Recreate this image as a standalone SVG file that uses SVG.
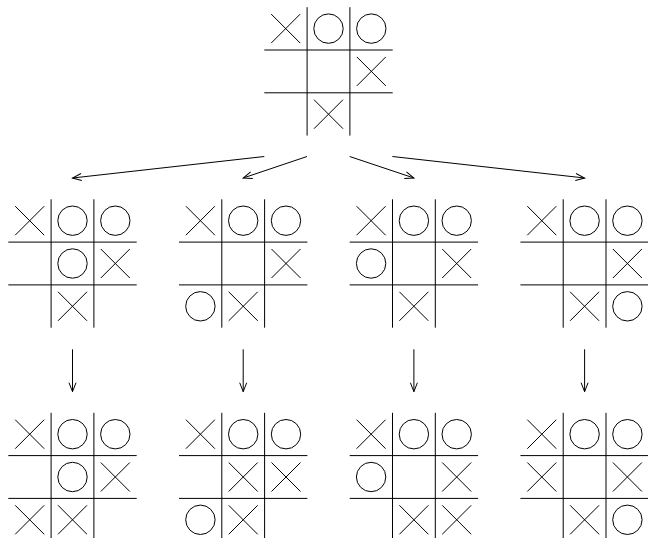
<svg xmlns="http://www.w3.org/2000/svg" xmlns:xlink="http://www.w3.org/1999/xlink" width="648" height="538" viewBox="0 0 648 538">
<style>
  .g, .m { fill: none; stroke: #000; stroke-width: 1; }
  .c { fill: none; stroke: #000; stroke-width: 1; }
  .ah { fill: none; stroke: #000; stroke-width: 1; }
</style>
<defs>
  <path id="grid" class="g" d="M42.8,0V128.4M85.6,0V128.4M0,42.8H128.4M0,85.6H128.4"/>
  <path id="X" class="m" d="M-14.5,-14.5L14.5,14.5M-14.5,14.5L14.5,-14.5"/>
  <circle id="O" class="m" r="14.7"/>
  <marker id="arr" markerUnits="userSpaceOnUse" markerWidth="12" markerHeight="10" refX="0" refY="0" orient="auto" overflow="visible">
    <path class="ah" d="M-9,-3.5L0,0L-9,3.5"/>
  </marker>
</defs>
<rect width="648" height="538" fill="#fff"/>

<g id="board-root" transform="translate(264.3,7.2)">
  <use xlink:href="#grid" href="#grid"/>
  <use href="#X" x="21.4" y="21.4"/><use href="#O" x="64.2" y="21.4"/><use href="#O" x="107" y="21.4"/>
  <use href="#X" x="107" y="64.2"/>
  <use href="#X" x="64.2" y="107"/>
</g>

<g id="board-a1" transform="translate(8.3,199.3)">
  <use href="#grid"/>
  <use href="#X" x="21.4" y="21.4"/><use href="#O" x="64.2" y="21.4"/><use href="#O" x="107" y="21.4"/>
  <use href="#O" x="64.2" y="64.2"/><use href="#X" x="107" y="64.2"/>
  <use href="#X" x="64.2" y="107"/>
</g>
<g id="board-a2" transform="translate(179,199.3)">
  <use href="#grid"/>
  <use href="#X" x="21.4" y="21.4"/><use href="#O" x="64.2" y="21.4"/><use href="#O" x="107" y="21.4"/>
  <use href="#X" x="107" y="64.2"/>
  <use href="#O" x="21.4" y="107"/><use href="#X" x="64.2" y="107"/>
</g>
<g id="board-a3" transform="translate(349.7,199.3)">
  <use href="#grid"/>
  <use href="#X" x="21.4" y="21.4"/><use href="#O" x="64.2" y="21.4"/><use href="#O" x="107" y="21.4"/>
  <use href="#O" x="21.4" y="64.2"/><use href="#X" x="107" y="64.2"/>
  <use href="#X" x="64.2" y="107"/>
</g>
<g id="board-a4" transform="translate(520.4,199.3)">
  <use href="#grid"/>
  <use href="#X" x="21.4" y="21.4"/><use href="#O" x="64.2" y="21.4"/><use href="#O" x="107" y="21.4"/>
  <use href="#X" x="107" y="64.2"/>
  <use href="#X" x="64.2" y="107"/><use href="#O" x="107" y="107"/>
</g>

<g id="board-b1" transform="translate(8.3,412.8)">
  <use href="#grid"/>
  <use href="#X" x="21.4" y="21.4"/><use href="#O" x="64.2" y="21.4"/><use href="#O" x="107" y="21.4"/>
  <use href="#O" x="64.2" y="64.2"/><use href="#X" x="107" y="64.2"/>
  <use href="#X" x="21.4" y="107"/><use href="#X" x="64.2" y="107"/>
</g>
<g id="board-b2" transform="translate(179,412.8)">
  <use href="#grid"/>
  <use href="#X" x="21.4" y="21.4"/><use href="#O" x="64.2" y="21.4"/><use href="#O" x="107" y="21.4"/>
  <use href="#X" x="64.2" y="64.2"/><use href="#X" x="107" y="64.2"/>
  <use href="#O" x="21.4" y="107"/><use href="#X" x="64.2" y="107"/>
</g>
<g id="board-b3" transform="translate(349.7,412.8)">
  <use href="#grid"/>
  <use href="#X" x="21.4" y="21.4"/><use href="#O" x="64.2" y="21.4"/><use href="#O" x="107" y="21.4"/>
  <use href="#O" x="21.4" y="64.2"/><use href="#X" x="107" y="64.2"/>
  <use href="#X" x="64.2" y="107"/><use href="#X" x="107" y="107"/>
</g>
<g id="board-b4" transform="translate(520.4,412.8)">
  <use href="#grid"/>
  <use href="#X" x="21.4" y="21.4"/><use href="#O" x="64.2" y="21.4"/><use href="#O" x="107" y="21.4"/>
  <use href="#X" x="21.4" y="64.2"/><use href="#X" x="107" y="64.2"/>
  <use href="#X" x="64.2" y="107"/><use href="#O" x="107" y="107"/>
</g>

<g id="connectors">
  <line class="c" x1="264.3" y1="156.5" x2="72.5" y2="178" marker-end="url(#arr)"/>
  <line class="c" x1="307" y1="156.5" x2="243.2" y2="178" marker-end="url(#arr)"/>
  <line class="c" x1="349.7" y1="156.5" x2="413.9" y2="178" marker-end="url(#arr)"/>
  <line class="c" x1="392.4" y1="156.5" x2="584.6" y2="178" marker-end="url(#arr)"/>
  <line class="c" x1="72.5" y1="349.3" x2="72.5" y2="391.7" marker-end="url(#arr)"/>
  <line class="c" x1="243.2" y1="349.3" x2="243.2" y2="391.7" marker-end="url(#arr)"/>
  <line class="c" x1="413.9" y1="349.3" x2="413.9" y2="391.7" marker-end="url(#arr)"/>
  <line class="c" x1="584.6" y1="349.3" x2="584.6" y2="391.7" marker-end="url(#arr)"/>
</g>
</svg>
